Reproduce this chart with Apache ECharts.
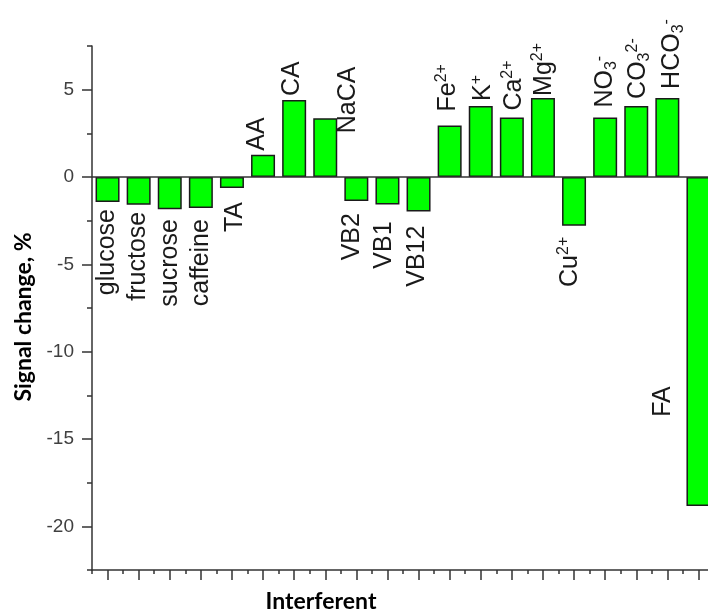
<!DOCTYPE html>
<html>
<head>
<meta charset="utf-8">
<style>
  html, body { margin: 0; padding: 0; background: #fff; }
  #chart { width: 708px; height: 612px; }
</style>
<script src="https://cdn.jsdelivr.net/npm/echarts@6/dist/echarts.min.js"></script>
</head>
<body>
<div id="chart"></div>
<script>
// ---- data ----
const categories = ['glucose','fructose','sucrose','caffeine','TA','AA','CA','NaCA','VB2','VB1','VB12',
  'Fe2+','K+','Ca2+','Mg2+','Cu2+','NO3-','CO32-','HCO3-','FA'];
const labelText = ['{n|glucose}','{n|fructose}','{n|sucrose}','{n|caffeine}','{n|TA}','{n|AA}','{n|CA}','{n|NaCA}',
  '{n|VB2}','{n|VB1}','{n|VB12}','{n|Fe}{sup|2+}','{n|K}{sup|+}','{n|Ca}{sup|2+}','{n|Mg}{sup|2+}','{n|Cu}{sup|2+}',
  '{n|NO}{sub|3}{sup|-}','{n|CO}{sub|3}{sup|2-}','{n|HCO}{sub|3}{sup|-}','{n|FA}'];
const signalChange = [-1.43,-1.59,-1.84,-1.78,-0.63,1.28,4.41,3.36,-1.38,-1.57,-1.98,
  2.95,4.07,3.40,4.53,-2.79,3.40,4.07,4.53,-18.84];
const yTickLabels = [-20,-15,-10,-5,0,5];

// label placement tweaks (px): gap from bar end, sideways shift
const labelGap   = [7,7,10,11,14,4,4,-15,12,17,14,14,5,7,2,11,10,7,9,9];
const labelShift = [0,-1,0,0,3,-6,-2,23,-4,-3,-1,-2,2,2,1,-4,0,2,5,0];

const richStyles = {
  n:   { fontFamily: 'Liberation Sans', fontSize: 25, lineHeight: 28, color: '#1a1a1a' },
  sup: { fontFamily: 'Liberation Sans', fontSize: 16, lineHeight: 16, color: '#1a1a1a', verticalAlign: 'top' },
  sub: { fontFamily: 'Liberation Sans', fontSize: 16, lineHeight: 16, color: '#1a1a1a', verticalAlign: 'bottom' }
};

const barData = signalChange.map((v, i) => {
  let label;
  if (categories[i] === 'FA') {
    label = { position: 'left', distance: labelGap[i], align: 'center', verticalAlign: 'bottom', offset: [-60, 0] };
  } else if (v >= 0) {
    label = { position: 'top', distance: labelGap[i], align: 'left', verticalAlign: 'middle', offset: [0, labelShift[i]] };
  } else {
    label = { position: 'bottom', distance: labelGap[i], align: 'right', verticalAlign: 'middle', offset: [0, labelShift[i]] };
  }
  label.formatter = labelText[i];
  return { value: v, label: label };
});

const axisColor = '#333';
const chart = echarts.init(document.getElementById('chart'), null, { renderer: 'canvas' });
chart.setOption({
  animation: false,
  backgroundColor: '#fff',
  grid: { left: 92, width: 622, top: 46, bottom: 42, containLabel: false, outerBoundsMode: 'none' },
  xAxis: [
    {
      type: 'category', data: categories, position: 'bottom',
      axisLine: { show: true, onZero: false, lineStyle: { color: axisColor, width: 1.5 } },
      axisTick: { show: true, interval: 0, alignWithLabel: true, inside: false, length: 10, lineStyle: { color: axisColor, width: 1.5 } },
      axisLabel: { show: false, interval: 0 }, splitLine: { show: false }
    },
    {
      type: 'category', data: categories, position: 'bottom',
      axisLine: { show: false, onZero: false },
      axisTick: { show: true, interval: 0, alignWithLabel: false, inside: false, length: 4, lineStyle: { color: axisColor, width: 1.5 } },
      axisLabel: { show: false, interval: 0 }, splitLine: { show: false }
    }
  ],
  yAxis: [
    {
      type: 'value', min: -22.5, max: 7.5, position: 'left',
      axisLine: { show: true, onZero: false, lineStyle: { color: axisColor, width: 1.5 } },
      axisTick: { show: true, inside: false, length: 10, customValues: yTickLabels, lineStyle: { color: axisColor, width: 1.5 } },
      axisLabel: { show: true, customValues: yTickLabels, margin: 18, color: '#404040', fontFamily: 'Liberation Sans', fontSize: 19 },
      splitLine: { show: false }
    },
    {
      type: 'value', min: -22.5, max: 7.5, interval: 2.5, position: 'left', offset: 0,
      axisLine: { show: false, onZero: false },
      axisTick: { show: true, inside: false, length: 5, lineStyle: { color: axisColor, width: 1.5 } },
      axisLabel: { show: false }, splitLine: { show: false }
    }
  ],
  graphic: [
    { type: 'text', x: 321, y: 602, silent: true,
      style: { text: 'Interferent', font: 'bold 23px Lato', fill: '#000', align: 'center', verticalAlign: 'middle' } },
    { type: 'text', x: 24, y: 317, rotation: Math.PI / 2, silent: true,
      style: { text: 'Signal change, %', font: 'bold 23px Lato', fill: '#000', align: 'center', verticalAlign: 'middle' } }
  ],
  series: [{
    type: 'bar', xAxisIndex: 0, yAxisIndex: 0,
    data: barData,
    barWidth: 24,
    itemStyle: { color: '#00ff00', borderColor: '#1a1a1a', borderWidth: 1.5 },
    label: { show: true, rotate: 90, rich: richStyles, color: '#1a1a1a' },
    markLine: {
      silent: true, symbol: 'none', label: { show: false },
      lineStyle: { color: axisColor, width: 1.5, type: 'solid' },
      data: [{ yAxis: 0 }]
    }
  }]
});
</script>
</body>
</html>
